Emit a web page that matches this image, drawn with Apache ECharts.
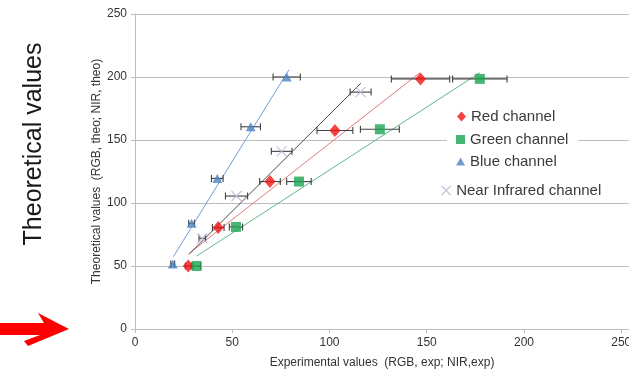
<!DOCTYPE html>
<html>
<head>
<meta charset="utf-8">
<script src="https://cdn.jsdelivr.net/npm/echarts@6/dist/echarts.min.js"></script>
<style>
html,body{margin:0;padding:0;background:#fff;}
#chart{width:629px;height:375px;}
</style>
</head>
<body>
<div id="chart"></div>
<script>
// ---- data ----
const xTicks = [0, 50, 100, 150, 200, 250];
const yTicks = [0, 50, 100, 150, 200, 250];

const redX = [27.4, 42.8, 69.4, 102.8, 146.8];
const redY = [50, 80.5, 117, 157.5, 198.5];
const redErr = [1.5, 3, 5.3, 9.2, 15];

const greenX = [31.7, 51.9, 84.3, 125.9, 177.3];
const greenY = [50, 81, 117, 158.5, 198.5];
const greenErr = [2, 3.4, 6.3, 10, 14];

const blueX = [19.4, 29.1, 42.3, 59.5, 78.0];
const blueY = [51.5, 84, 119.5, 160.5, 200];
const blueErr = [1, 1.5, 3, 5, 7];

const nirX = [34.6, 52.2, 75.4, 116];
const nirY = [72, 105.5, 141, 188];
const nirErr = [1.7, 5.7, 5.3, 5.4];

// trend line end points
const redLineX = [27.4, 146.5], redLineY = [59.5, 203.4];
const greenLineX = [31.7, 177.3], greenLineY = [57.9, 203.4];
const blueLineX = [19.7, 79.1], blueLineY = [57.4, 205.6];
const nirLineX = [27.9, 116.1], nirLineY = [59.5, 195];

const names = ['Red channel', 'Green channel', 'Blue channel', 'Near Infrared channel'];

// ---- build ----
const zip = (a, b) => a.map((v, i) => [v, b[i]]);
const zip3 = (a, b, c) => a.map((v, i) => [v, b[i], c[i]]);

function errSeries(xs, ys, es) {
  return {
    type: 'custom',
    silent: true,
    z: 3,
    data: zip3(xs, ys, es),
    renderItem: function (params, api) {
      const x = api.value(0), y = api.value(1), e = api.value(2);
      const p1 = api.coord([x - e, y]);
      const p2 = api.coord([x + e, y]);
      const h = 3.5;
      const st = { stroke: '#404040', lineWidth: 1.1 };
      return {
        type: 'group',
        children: [
          { type: 'line', shape: { x1: p1[0], y1: p1[1], x2: p2[0], y2: p2[1] }, style: st },
          { type: 'line', shape: { x1: p1[0], y1: p1[1] - h, x2: p1[0], y2: p1[1] + h }, style: st },
          { type: 'line', shape: { x1: p2[0], y1: p2[1] - h, x2: p2[0], y2: p2[1] + h }, style: st }
        ]
      };
    }
  };
}
function trend(xs, ys, color, w) {
  return {
    type: 'line', data: zip(xs, ys), symbol: 'none', silent: true, z: 2,
    lineStyle: { color: color, width: w }
  };
}

const xPath = 'path://M0,0L10,10M10,0L0,10';

const series = [
  trend(blueLineX, blueLineY, '#6e9fd6', 1),
  trend(redLineX, redLineY, '#e07a7a', 1),
  trend(greenLineX, greenLineY, '#5cb98a', 1),
  trend(nirLineX, nirLineY, '#4a4a4a', 1),
  errSeries(redX, redY, redErr),
  errSeries(greenX, greenY, greenErr),
  errSeries(blueX, blueY, blueErr),
  errSeries(nirX, nirY, nirErr),
  { name: names[0], type: 'scatter', z: 5, data: zip(redX, redY), symbol: 'diamond', symbolSize: [11, 13],
    itemStyle: { color: '#f21414' } },
  { name: names[1], type: 'scatter', z: 5, data: zip(greenX, greenY), symbol: 'rect', symbolSize: 10,
    itemStyle: { color: '#1aa552' } },
  { name: names[2], type: 'scatter', z: 5, data: zip(blueX, blueY), symbol: 'triangle', symbolSize: [10, 9],
    itemStyle: { color: '#4f81bd' } },
  { name: names[3], type: 'scatter', z: 5, data: zip(nirX, nirY), symbol: xPath, symbolSize: 10,
    itemStyle: { color: 'rgba(0,0,0,0)', borderColor: '#b8b8d6', borderWidth: 1.3 } }
];

const legTxt = { fontFamily: 'Liberation Sans, Arial, sans-serif', fontSize: 15, color: '#3a3a3a' };
function leg(name, left, top, icon, w, h, pad, extra) {
  return Object.assign({
    data: [{ name: name, icon: icon }],
    left: left, top: top, itemWidth: w, itemHeight: h, padding: pad,
    textStyle: legTxt, selectedMode: false
  }, extra || {});
}

const option = {
  animation: false,
  backgroundColor: '#fff',
  grid: { left: 135, top: 14, width: 494, height: 315, outerBoundsMode: 'none', containLabel: false },
  xAxis: {
    type: 'value', min: 0, max: 254, interval: 50,
    name: 'Experimental values  (RGB, exp; NIR,exp)', nameLocation: 'middle', nameGap: 28,
    nameMoveOverlap: false,
    nameTextStyle: { fontFamily: 'Liberation Sans, Arial, sans-serif', fontSize: 12, color: '#333' },
    axisLine: { lineStyle: { color: '#bdbdbd' } },
    axisTick: { show: true, length: 4, lineStyle: { color: '#bdbdbd' } },
    axisLabel: { fontFamily: 'Liberation Sans, Arial, sans-serif', fontSize: 12, color: '#333', margin: 8,
      formatter: v => (xTicks.indexOf(v) >= 0 ? String(v) : '') },
    splitLine: { show: false }
  },
  yAxis: {
    type: 'value', min: 0, max: 250, interval: 50,
    name: 'Theoretical values  (RGB, theo; NIR, theo)', nameLocation: 'middle', nameGap: 32,
    nameMoveOverlap: false,
    nameTextStyle: { fontFamily: 'Liberation Sans, Arial, sans-serif', fontSize: 12, color: '#333' },
    axisLine: { show: true, lineStyle: { color: '#bdbdbd' } },
    axisTick: { show: true, length: 4, lineStyle: { color: '#bdbdbd' } },
    axisLabel: { fontFamily: 'Liberation Sans, Arial, sans-serif', fontSize: 12, color: '#333', margin: 8,
      formatter: v => (yTicks.indexOf(v) >= 0 ? String(v) : '') },
    splitLine: { show: true, lineStyle: { color: '#bdbdbd', width: 1 } }
  },
  legend: [
    leg(names[0], 457, 109, 'diamond', 9, 10, 0),
    leg(names[1], 447, 129, 'rect', 9, 9, [3, 10, 3, 9], { backgroundColor: '#fff', itemGap: 0 }),
    leg(names[2], 456, 154, 'triangle', 9, 8, 0),
    leg(names[3], 441, 183, xPath, 10, 9, 0, { itemStyle: { color: 'rgba(0,0,0,0)', borderColor: '#b8b8d6', borderWidth: 1.3 } })
  ],
  graphic: [
    {
      type: 'text', x: 34, y: 144, rotation: Math.PI / 2,
      style: { text: 'Theoretical values', fontFamily: 'Liberation Sans, Arial, sans-serif', fontSize: 25,
        fill: '#1a1a1a', align: 'center', verticalAlign: 'middle' }
    },
    {
      type: 'polygon',
      shape: { points: [[0, 323], [44, 323], [38, 313], [69, 329], [28, 346], [24, 341], [40, 335], [0, 335]] },
      style: { fill: '#ff0000' }
    }
  ],
  series: series
};

const chart = echarts.init(document.getElementById('chart'), null, { renderer: 'canvas' });
chart.setOption(option);
</script>
</body>
</html>
